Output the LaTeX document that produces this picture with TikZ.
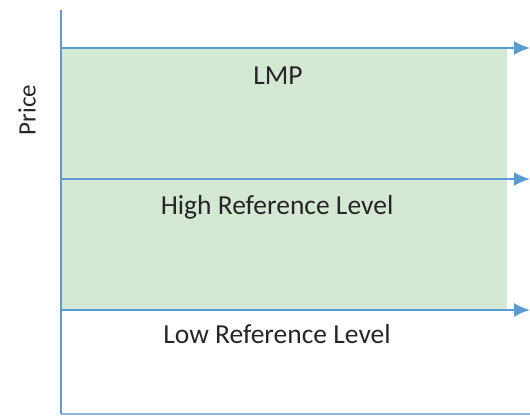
\documentclass[tikz,border=0pt]{standalone}
\usepackage{fontspec}
\setmainfont{Carlito}
\usetikzlibrary{arrows.meta,positioning}
\definecolor{axisblue}{HTML}{5B9BD5}
\definecolor{bandgreen}{HTML}{D5E8D4}
\definecolor{labelgray}{HTML}{262626}

\begin{document}
\begin{tikzpicture}[
  x=1pt, y=-1pt,
  axis/.style={draw=axisblue, line width=2.5pt},
  baseline/.style={draw=axisblue!70, line width=1.8pt},
  level/.style={-{Latex[length=16pt, width=14pt]}, draw=axisblue, line width=2pt},
  band/.style={fill=bandgreen, draw=none},
  lbl/.style={font=\fontsize{27.5}{32}\selectfont, text=labelgray},
  axislbl/.style={font=\fontsize{25}{30}\selectfont, text=labelgray, rotate=90}
]
\useasboundingbox (0,0) rectangle (530,417);

% axes
\coordinate (top) at (61,10);
\coordinate (origin) at (61,414);
\coordinate (xend) at (530,414);

% green band between the two reference levels
\fill[band] (61,48) rectangle (507,310);

% price levels
\coordinate (lmpL) at (61,48);
\coordinate (lmpR) at (530,48);
\coordinate (highL) at (61,179);
\coordinate (highR) at (530,179);
\coordinate (lowL) at (61,310);
\coordinate (lowR) at (530,310);

\draw[level] (lmpL) -- (lmpR);
\draw[level] (highL) -- (highR);
\draw[level] (lowL) -- (lowR);

\draw[baseline] (origin) -- (xend);
\draw[axis] (top) -- (origin);

% labels
\node[lbl] (lmp) at (278,76) {LMP};
\node[lbl] (high) at (277,207) {High Reference Level};
\node[lbl] (low) at (277,334) {Low Reference Level};
\node[axislbl] (price) at (27,110) {Price};
\end{tikzpicture}
\end{document}
